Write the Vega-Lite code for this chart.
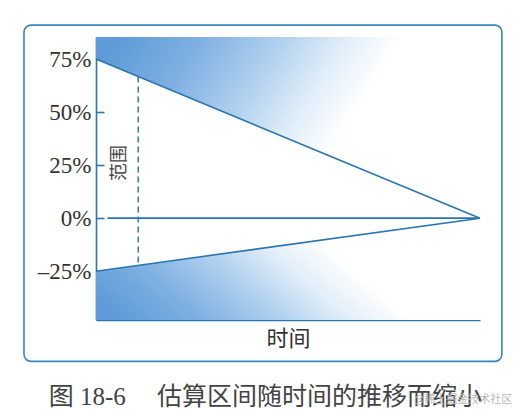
{
  "$schema": "https://vega.github.io/schema/vega-lite/v6.json",
  "width": 384,
  "height": 283,
  "autosize": {"type": "none"},
  "padding": {"left": 96, "top": 37, "right": 48, "bottom": 96},
  "background": "white",
  "config": {"view": {"stroke": null}, "axis": {"grid": false}},
  "datasets": {
    "bounds": [
      {"t": 0, "upper": 75, "lower": -25},
      {"t": 100, "upper": 0, "lower": 0}
    ],
    "rules": [
      {"kind": "zero", "t": 3, "t2": 100, "v": 0, "v2": 0},
      {"kind": "range", "t": 11, "t2": 11, "v": 66.75, "v2": -22.25}
    ],
    "labels": [
      {"kind": "range", "text": "范围", "t": 6.3, "v": 26},
      {"kind": "caption", "text": "图 18-6　 估算区间随时间的推移而缩小", "t": 44.1, "v": -84.4},
      {"kind": "mark", "text": "@稀土掘金技术社区", "t": 95.6, "v": -85.8}
    ]
  },
  "layer": [
    {
      "data": {"name": "bounds"},
      "mark": {"type": "area", "color": {"gradient": "linear", "x1": 0, "y1": 0.2, "x2": 1, "y2": 0.5, "stops": [{"offset": 0, "color": "#5e9bd8"}, {"offset": 0.2, "color": "#7fb0e2"}, {"offset": 0.4, "color": "#b3d2ef"}, {"offset": 0.55, "color": "#e2eef9"}, {"offset": 0.68, "color": "#ffffff"}]}},
      "encoding": {
        "x": {"field": "t", "type": "quantitative", "scale": {"domain": [0, 100], "nice": false, "zero": false}, "axis": {"title": "时间", "titleFont": "Noto Sans CJK SC", "titleFontSize": 22, "titleFontWeight": "normal", "titleColor": "#333", "titlePadding": 8, "labels": false, "ticks": false, "domainColor": "#2a76b3", "domainWidth": 1.6}},
        "y": {"field": "upper", "type": "quantitative", "scale": {"domain": [-48, 85.4], "nice": false, "zero": false}, "axis": {"title": null, "values": [75, 50, 25, 0, -25], "labelExpr": "(datum.value < 0 ? '–' : '') + abs(datum.value) + '%'", "labelFont": "Liberation Serif", "labelFontSize": 23, "labelColor": "#333", "domainColor": "#2a76b3", "domainWidth": 1.6, "tickColor": "#2a76b3", "tickWidth": 1.6, "tickSize": -8, "labelPadding": 13}},
        "y2": {"datum": 85.4}
      }
    },
    {
      "data": {"values": [{"x0": -18.75, "x1": 105.7, "y0": 91, "y1": -67.5}]},
      "mark": {"type": "rect", "fill": null, "fillOpacity": 0, "stroke": "#3a86b8", "strokeWidth": 1.6, "cornerRadius": 7, "clip": false},
      "encoding": {
        "x": {"field": "x0", "type": "quantitative", "title": "时间"},
        "x2": {"field": "x1"},
        "y": {"field": "y0", "type": "quantitative", "title": null},
        "y2": {"field": "y1"}
      }
    },
    {
      "data": {"name": "bounds"},
      "mark": {"type": "area", "color": {"gradient": "linear", "x1": 0, "y1": 0.8, "x2": 1, "y2": 0.5, "stops": [{"offset": 0, "color": "#5e9bd8"}, {"offset": 0.2, "color": "#7fb0e2"}, {"offset": 0.4, "color": "#b3d2ef"}, {"offset": 0.55, "color": "#e2eef9"}, {"offset": 0.7, "color": "#ffffff"}]}},
      "encoding": {
        "x": {"field": "t", "type": "quantitative", "title": "时间"},
        "y": {"field": "lower", "type": "quantitative", "title": null},
        "y2": {"datum": -48}
      }
    },
    {
      "data": {"name": "bounds"},
      "mark": {"type": "line", "color": "#2a76b3", "strokeWidth": 1.6},
      "encoding": {
        "x": {"field": "t", "type": "quantitative", "title": "时间"},
        "y": {"field": "upper", "type": "quantitative", "title": null}
      }
    },
    {
      "data": {"name": "bounds"},
      "mark": {"type": "line", "color": "#2a76b3", "strokeWidth": 1.6},
      "encoding": {
        "x": {"field": "t", "type": "quantitative", "title": "时间"},
        "y": {"field": "lower", "type": "quantitative", "title": null}
      }
    },
    {
      "data": {"name": "rules"},
      "transform": [{"filter": "datum.kind === 'zero'"}],
      "mark": {"type": "rule", "color": "#2a76b3", "strokeWidth": 1.6},
      "encoding": {
        "x": {"field": "t", "type": "quantitative", "title": "时间"},
        "x2": {"field": "t2"},
        "y": {"field": "v", "type": "quantitative", "title": null},
        "y2": {"field": "v2"}
      }
    },
    {
      "data": {"name": "rules"},
      "transform": [{"filter": "datum.kind === 'range'"}],
      "mark": {"type": "rule", "color": "#3d7fa6", "strokeWidth": 1.6, "strokeDash": [6, 4]},
      "encoding": {
        "x": {"field": "t", "type": "quantitative", "title": "时间"},
        "x2": {"field": "t2"},
        "y": {"field": "v", "type": "quantitative", "title": null},
        "y2": {"field": "v2"}
      }
    },
    {
      "data": {"name": "labels"},
      "transform": [{"filter": "datum.kind === 'range'"}],
      "mark": {"type": "text", "angle": 270, "font": "Noto Sans CJK SC", "fontSize": 18, "color": "#444", "align": "center", "baseline": "middle"},
      "encoding": {
        "x": {"field": "t", "type": "quantitative", "title": "时间"},
        "y": {"field": "v", "type": "quantitative", "title": null},
        "text": {"field": "text"}
      }
    },
    {
      "data": {"name": "labels"},
      "transform": [{"filter": "datum.kind === 'caption'"}],
      "mark": {"type": "text", "font": "Liberation Serif, Noto Sans CJK SC", "fontSize": 25, "color": "#444", "align": "center", "baseline": "middle", "clip": false},
      "encoding": {
        "x": {"field": "t", "type": "quantitative", "title": "时间"},
        "y": {"field": "v", "type": "quantitative", "title": null},
        "text": {"field": "text"}
      }
    },
    {
      "data": {"name": "labels"},
      "transform": [{"filter": "datum.kind === 'mark'"}],
      "mark": {"type": "text", "font": "Noto Sans CJK SC", "fontSize": 11, "color": "#b8b8b8", "align": "center", "baseline": "middle", "clip": false},
      "encoding": {
        "x": {"field": "t", "type": "quantitative", "title": "时间"},
        "y": {"field": "v", "type": "quantitative", "title": null},
        "text": {"field": "text"}
      }
    }
  ]
}
